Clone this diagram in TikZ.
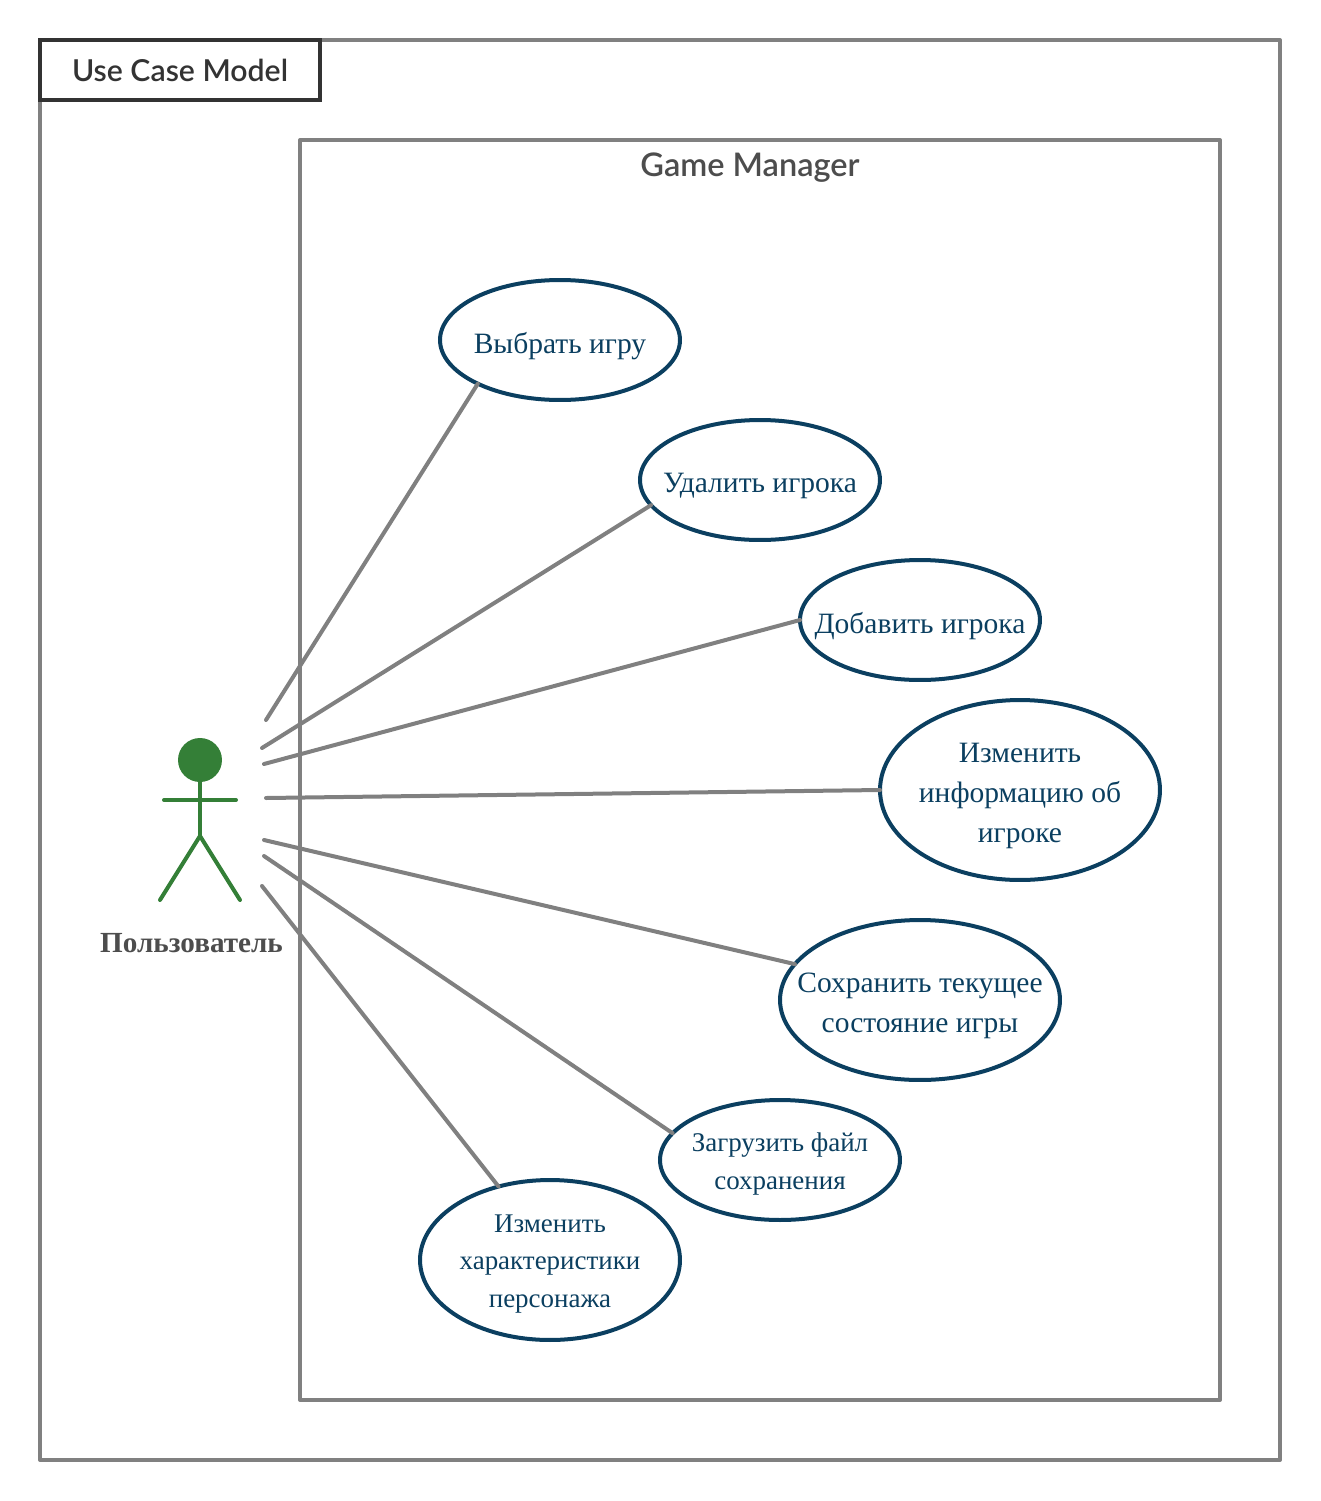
\documentclass[tikz,border=0pt]{standalone}
\usepackage{fontspec}
\setmainfont{Liberation Serif}
\newfontfamily\latofont{Lato Semibold}
\usetikzlibrary{shapes.geometric,positioning}
\definecolor{framegray}{HTML}{808080}
\definecolor{titledark}{HTML}{333333}
\definecolor{labelgray}{HTML}{4D4D4D}
\definecolor{caseblue}{HTML}{0B3F60}
\definecolor{actorgreen}{HTML}{347F37}
\tikzset{
  frame/.style={draw=framegray,line width=0.08cm,line join=round},
  assoc/.style={draw=framegray,line width=0.08cm,line cap=round},
  limb/.style={draw=actorgreen,line width=0.08cm,line cap=round},
  usecase/.style={draw=caseblue,line width=0.08cm,ellipse,inner sep=0pt,outer sep=0pt},
  casetext/.style={text=caseblue,align=center,inner sep=0pt},
  bigcase/.style={yshift=-0.12cm,font=\fontsize{16.8}{22.7}\selectfont},
  smallcase/.style={yshift=-0.08cm,font=\fontsize{15.35}{21.5}\selectfont}
}
\begin{document}
\begin{tikzpicture}[x=0.02cm,y=-0.02cm]
\useasboundingbox (0,0) rectangle (1321,1501);
\draw[frame] (40,40) rectangle (1280,1460);
\draw[frame] (300,140) rectangle (1220,1400);
\node[draw=titledark,line width=0.09cm,minimum width=5.6cm,minimum height=1.2cm,inner sep=0pt,outer sep=0pt,fill=white,text=titledark,font=\latofont\fontsize{17.2}{20}\selectfont] (title) at (180,70) {\raisebox{-0.07cm}{Use Case Model}};
\node[text=labelgray,inner sep=0pt,font=\latofont\fontsize{18.5}{22}\selectfont] (manager) at (750,168) {Game Manager};

\foreach \cx/\cy/\w/\h/\uc/\sz/\txt in {
  560/340/4.8/2.4/pick/bigcase/{Выбрать игру},
  760/480/4.8/2.4/del/bigcase/{Удалить игрока},
  920/620/4.8/2.4/add/bigcase/{Добавить игрока},
  1020/790/5.6/3.6/info/bigcase/{Изменить\\информацию об\\игроке},
  920/1000/5.6/3.2/save/bigcase/{Сохранить текущее\\состояние игры},
  780/1160/4.8/2.4/load/smallcase/{Загрузить файл\\сохранения},
  550/1260/5.2/3.2/stats/smallcase/{Изменить\\характеристики\\персонажа}}
  \node[usecase,minimum width=\w cm,minimum height=\h cm,label={[name=\uc text,casetext,\sz]center:{\txt}}] (\uc) at (\cx,\cy) {};

\node[circle,fill=actorgreen,inner sep=0pt,outer sep=0pt,minimum size=0.88cm] (head) at (200,760) {};
\coordinate (armL) at (164,800);
\coordinate (armR) at (236,800);
\coordinate (hip) at (200,836);
\coordinate (footL) at (160,900);
\coordinate (footR) at (240,900);
\draw[limb] (head) -- (hip);
\draw[limb] (armL) -- (armR);
\draw[limb] (footL) -- (hip) -- (footR);
\node[text=labelgray,inner sep=0pt,font=\bfseries\fontsize{16.6}{18}\selectfont] (user) at (191.5,943) {Пользователь};

\foreach \a/\x/\y/\uc/\ang in {
  a/266/720/pick/208,
  b/262/748/del/193.5,
  c/264/764/add/180,
  d/266/798/info/180,
  e/264/840/save/164.6,
  f/264/856/load/166.5,
  g/262/886/stats/125.5} {
  \coordinate (\a) at (\x,\y);
  \draw[assoc] (\a) -- (\uc.\ang);
}
\end{tikzpicture}
\end{document}
